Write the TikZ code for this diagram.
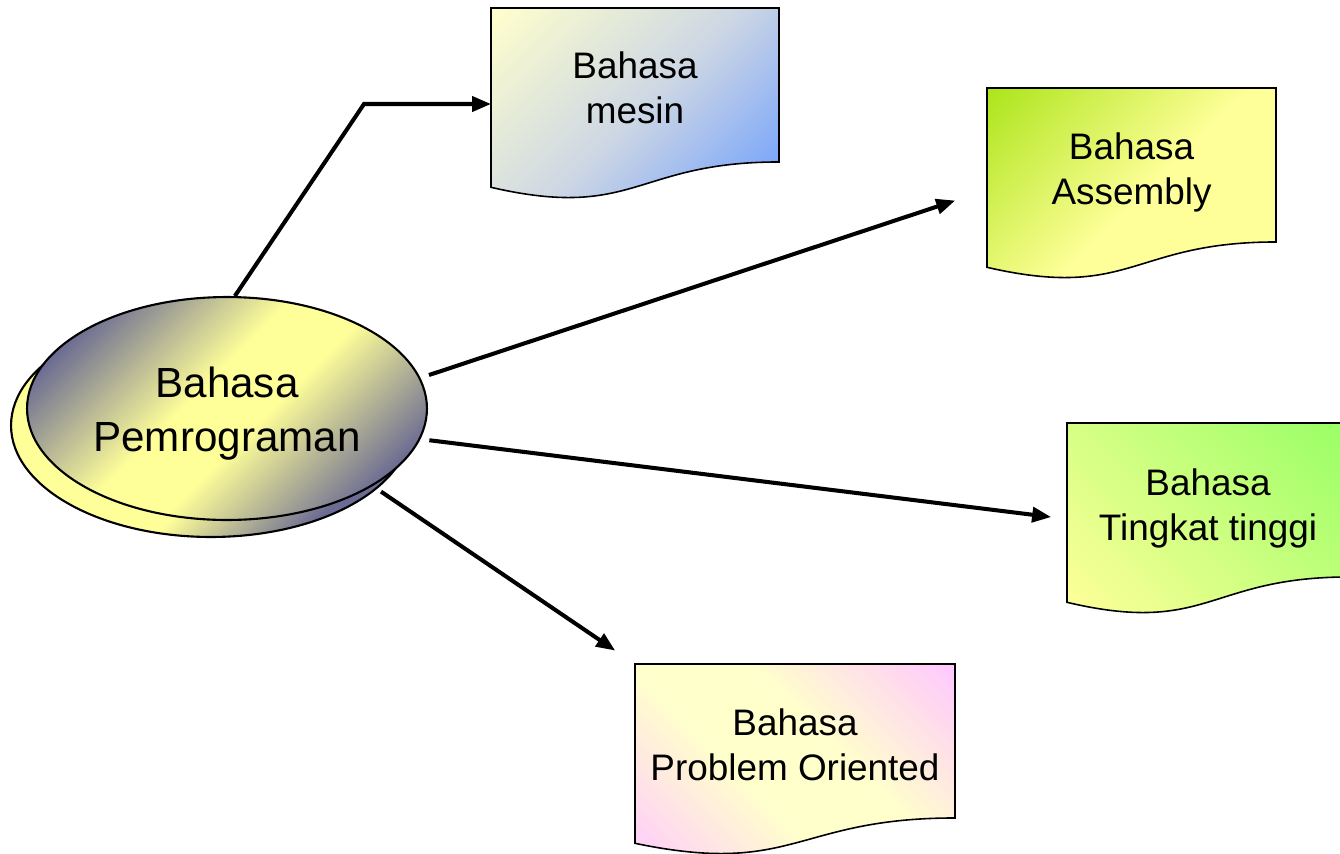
\documentclass[tikz,border=0pt]{standalone}
\usepackage{fontspec}
\setmainfont{Liberation Sans}
\usetikzlibrary{arrows.meta,calc,shapes.geometric}

% colours
\definecolor{ellyellow}{HTML}{FFFF99}
\definecolor{elldark}{HTML}{6B6B93}
\definecolor{paleyellow}{HTML}{FFFFCC}
\definecolor{skyblue}{HTML}{6699FF}
\definecolor{bluemid}{HTML}{CDD7E4}
\definecolor{limegreen}{HTML}{ADE51C}
\definecolor{softyellow}{HTML}{FFFF99}
\definecolor{brightgreen}{HTML}{99FF66}
\definecolor{softpink}{HTML}{FFC8FF}

% fills (vertical shadings, rotated with "shading angle")
\pgfdeclareverticalshading{ellfront}{100bp}{color(0bp)=(elldark); color(24bp)=(elldark); color(45bp)=(ellyellow); color(55bp)=(ellyellow); color(76bp)=(elldark); color(100bp)=(elldark)}
\pgfdeclareverticalshading{ellback}{100bp}{color(0bp)=(elldark); color(27bp)=(elldark); color(44bp)=(ellyellow); color(100bp)=(ellyellow)}
\pgfdeclareverticalshading{fillmesin}{100bp}{color(0bp)=(skyblue); color(15bp)=(skyblue); color(50bp)=(bluemid); color(85bp)=(paleyellow); color(100bp)=(paleyellow)}
\pgfdeclareverticalshading{fillassembly}{100bp}{color(0bp)=(softyellow); color(48bp)=(softyellow); color(85bp)=(limegreen); color(100bp)=(limegreen)}
\pgfdeclareverticalshading{filltinggi}{100bp}{color(0bp)=(softyellow); color(18bp)=(softyellow); color(85bp)=(brightgreen); color(100bp)=(brightgreen)}
\pgfdeclareverticalshading{fillproblem}{100bp}{color(0bp)=(softpink); color(15bp)=(softpink); color(42bp)=(paleyellow); color(58bp)=(paleyellow); color(85bp)=(softpink); color(100bp)=(softpink)}

\tikzset{
  ellnode/.style={ellipse, draw=black, line width=1.2pt, inner sep=0pt,
    minimum width=8cm, minimum height=4.46cm, shade, shading angle=45},
  elltext/.style={align=center, inner sep=0pt, font=\fontsize{24}{30.5}\selectfont},
  docframe/.style={rectangle, inner sep=0pt, outer sep=0pt, minimum height=3.84cm},
  docline/.style={draw=black, line width=0.9pt, shade},
  doctext/.style={align=center, inner sep=0pt, font=\fontsize{21}{25.6}\selectfont},
  conn/.style={draw=black, line width=2.3pt, -{Triangle[length=0.38cm,width=0.3cm]}}
}

% document symbol with a wavy lower edge, drawn over a named frame node
\newcommand\docpath[2]{%
  \path[docline,#2] (#1.north west) -- (#1.north east)
    -- ($(#1.north east)!0.802!(#1.south east)$)
    .. controls ($(#1.north)!0.802!(#1.south)$) and ($(#1.north)!1.1075!(#1.south)$)
    .. ($(#1.north west)!0.934!(#1.south west)$) -- cycle;}

\begin{document}
\begin{tikzpicture}[x=0.02cm,y=-0.02cm]
\useasboundingbox (0,0) rectangle (1340,853);

% central stacked ellipse
\node[ellnode, shading=ellback] (ellb) at (211,425.5) {};
\node[ellnode, shading=ellfront] (ell) at (227,408.5) {};
\node[elltext] (ellt) at ([yshift=-0.1cm]ell.center) {Bahasa\\Pemrograman};

% document boxes
\node[docframe, minimum width=5.76cm] (m) at (635,104) {};
\docpath{m}{shading=fillmesin, shading angle=45}
\node[doctext] (mt) at ([yshift=0.33cm]m.center) {Bahasa\\mesin};

\node[docframe, minimum width=5.78cm] (as) at (1131.5,184) {};
\docpath{as}{shading=fillassembly, shading angle=45}
\node[doctext] (ast) at ([yshift=0.24cm]as.center) {Bahasa\\Assembly};

\node[docframe, minimum width=5.64cm] (tt) at (1208,519) {};
\docpath{tt}{shading=filltinggi, shading angle=-45}
\node[doctext] (ttt) at ([yshift=0.22cm]tt.center) {Bahasa\\Tingkat tinggi};

\node[docframe, minimum width=6.4cm] (po) at (795,760) {};
\docpath{po}{shading=fillproblem, shading angle=-45}
\node[doctext] (pot) at ([yshift=0.3cm]po.center) {Bahasa\\Problem Oriented};

% connectors
\coordinate (bend) at (364,104);
\draw[conn] (ell.86) -- (bend) -- (m.west);
\draw[conn, shorten <=0.18cm, shorten >=0.67cm] (ell.9) -- ([yshift=-0.12cm]as.west);
\draw[conn, shorten <=0.18cm, shorten >=0.32cm] (ell.-9) -- (tt.west);
\draw[conn, shorten <=0.2cm, shorten >=0.48cm] (ell.-28) -- (po.north west);
\end{tikzpicture}
\end{document}
